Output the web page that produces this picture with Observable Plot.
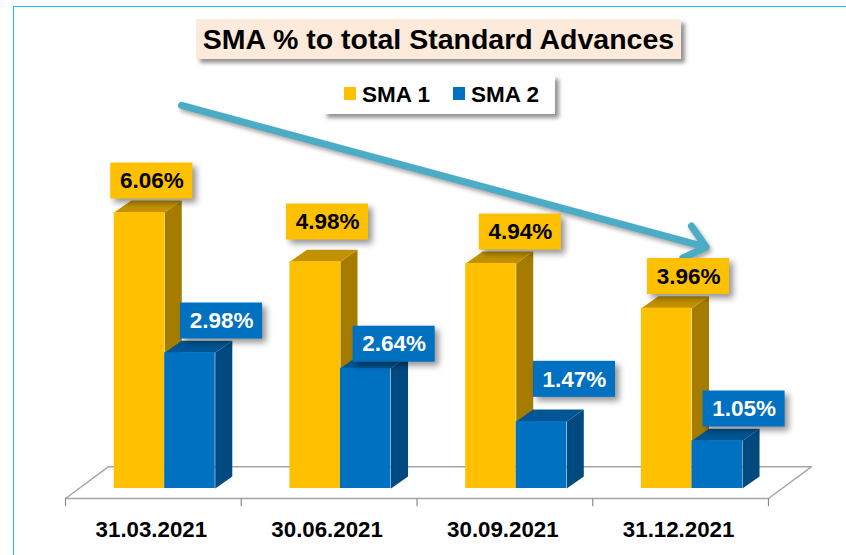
<!DOCTYPE html>
<html><head><meta charset="utf-8">
<script src="https://cdn.jsdelivr.net/npm/d3@7"></script>
<script src="https://cdn.jsdelivr.net/npm/@observablehq/plot@0.6"></script>
<style>
html,body{margin:0;padding:0;background:#fff;font-family:"Liberation Sans",Arial,sans-serif}
#wrap{position:relative;width:846px;height:555px;overflow:hidden}
#border{position:absolute;left:13px;top:5.5px;width:840px;height:560px;border:1.5px solid #19BDF5;box-sizing:border-box}
#chart{position:absolute;left:0;top:0}
#title{position:absolute;left:196px;top:19px;width:485px;height:40px;line-height:40px;background:#FDEADA;text-align:center;font-weight:bold;font-size:28.5px;color:#000;box-shadow:4px 4px 4px rgba(0,0,0,.42);white-space:nowrap}
#legend{position:absolute;left:323px;top:75px;width:232px;height:39px;background:#fff;box-shadow:4px 4px 4px rgba(0,0,0,.42);font-weight:bold;font-size:22.5px;color:#000}
#legend span{position:absolute;top:0;line-height:40px;white-space:nowrap}
#legend i{position:absolute;top:12px;width:12px;height:13px}
</style></head>
<body><div id="wrap"><div id="border"></div><div id="chart"></div>
<div id="title">SMA % to total Standard Advances</div>
<div id="legend"><i style="left:21px;background:#FFC000"></i><span style="left:39px">SMA 1</span><i style="left:130px;background:#0070C0"></i><span style="left:148px">SMA 2</span></div>
</div>
<script>
const categories = ["31.03.2021","30.06.2021","30.09.2021","31.12.2021"];
const sma1 = [6.06,4.98,4.94,3.96];
const sma2 = [2.98,2.64,1.47,1.05];
// label box centres (category units / percent units)
const sma1LabelX = [0.491,1.491,2.588,3.545];
const sma1LabelY = [6.75,5.85,5.63,4.654];
const sma2LabelX = [0.888,1.870,2.896,3.861];
const sma2LabelY = [3.677,3.168,2.397,1.745];
const trendFrom = {x:0.66,y:8.41};
const trendTo = {x:3.645,y:5.30};

const barW=0.2875, depthX=0.097, depthY=0.263, boxW=0.467, boxH=0.79;
const offs1=0.277, offs2=offs1+barW;
const shadow="drop-shadow(4px 4px 3px rgba(0,0,0,.42))";

function bars(values,off,name){
  return values.map((v,i)=>({i,v,name,l:i+off,r:i+off+barW}));
}
const b1=bars(sma1,offs1,"SMA 1"), b2=bars(sma2,offs2,"SMA 2");
function sidePts(b){return b.flatMap(d=>[
  {k:d.name+d.i,x:d.r,y:0},{k:d.name+d.i,x:d.r+depthX,y:depthY},
  {k:d.name+d.i,x:d.r+depthX,y:d.v+depthY},{k:d.name+d.i,x:d.r,y:d.v}]);}
function topPts(b){return b.flatMap(d=>[
  {k:d.name+d.i,x:d.l,y:d.v},{k:d.name+d.i,x:d.r,y:d.v},
  {k:d.name+d.i,x:d.r+depthX,y:d.v+depthY},{k:d.name+d.i,x:d.l+depthX,y:d.v+depthY}]);}
function face(pts,fill){return Plot.line(pts,{x:"x",y:"y",z:"k",fill,stroke:null,curve:"linear-closed"});}
function series(b,front,side,top){return [
  face(sidePts(b),side),face(topPts(b),top),
  Plot.rect(b,{x1:"l",x2:"r",y1:0,y2:"v",fill:front})];}

const floor=[{x:0,y:-0.22},{x:4,y:-0.22},{x:4.245,y:0.48},{x:0.245,y:0.48},{x:0,y:-0.22}];
const labels=(vals,xs,ys)=>vals.map((v,i)=>({t:v.toFixed(2)+"%",x:xs[i],y:ys[i]}));
const l1=labels(sma1,sma1LabelX,sma1LabelY), l2=labels(sma2,sma2LabelX,sma2LabelY);
function labelMarks(l,fill,color){return [
  Plot.rect(l,{x1:d=>d.x-boxW/2,x2:d=>d.x+boxW/2,y1:d=>d.y-boxH/2,y2:d=>d.y+boxH/2,fill,imageFilter:shadow}),
  Plot.text(l,{x:"x",y:"y",text:"t",fill:color,fontWeight:"bold",fontSize:22.5,fontFamily:"Liberation Sans"})];}

const plot=Plot.plot({
  width:846,height:555,margin:0,
  style:{background:"transparent",overflow:"visible"},
  x:{type:"linear",domain:[0,4],range:[65,768],axis:null},
  y:{type:"linear",domain:[0,10.714],range:[488,0],axis:null},
  marks:[
    Plot.line(floor,{x:"x",y:"y",stroke:"#A6A6A6",strokeWidth:1.5,curve:"linear"}),
    Plot.ruleX([0,1,2,3,4],{y1:-0.22,y2:-0.40,stroke:"#8C8C8C",strokeWidth:1.2}),
    ...series(b1,"#FFC000","#A67C00","#C29100"),
    ...series(b2,"#0070C0","#004A80","#005694"),
    Plot.arrow([{...trendFrom,x2:trendTo.x,y2:trendTo.y}],{x1:"x",y1:"y",x2:"x2",y2:"y2",stroke:"#4BACC6",strokeWidth:7,bend:0,headLength:5.5,headAngle:80,imageFilter:"drop-shadow(2px 3px 2px rgba(0,0,0,.35))"}),
    ...labelMarks(l1,"#FFC000","#000"),
    ...labelMarks(l2,"#0070C0","#fff"),
    Plot.text(categories,{x:(d,i)=>i+0.5,y:-0.91,dx:-2,text:d=>d,fill:"#000",fontWeight:"bold",fontSize:22.3,fontFamily:"Liberation Sans"})
  ]
});
document.getElementById("chart").append(plot);
</script></body></html>
